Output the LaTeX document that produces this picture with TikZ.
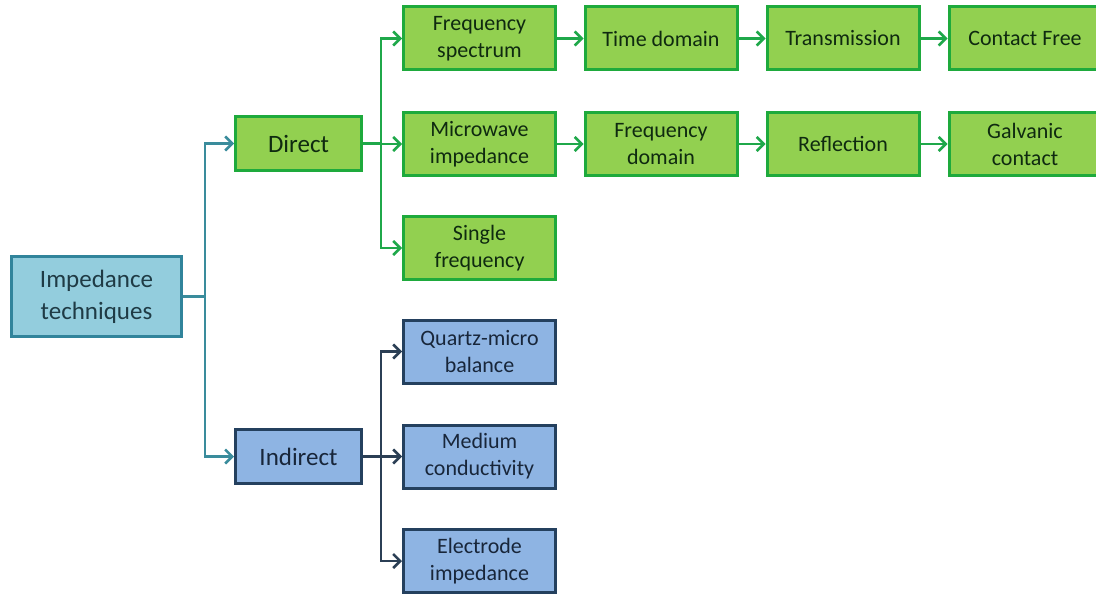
\documentclass[tikz,border=0pt]{standalone}
\usepackage{fontspec}
\setmainfont{Carlito}
\usetikzlibrary{arrows.meta}
\definecolor{impfill}{HTML}{93CDDD}
\definecolor{impdraw}{HTML}{31849B}
\definecolor{imptext}{HTML}{1F3B45}
\definecolor{gfill}{HTML}{92D050}
\definecolor{gdraw}{HTML}{1EAA3C}
\definecolor{gtext}{HTML}{0F2A10}
\definecolor{bfill}{HTML}{8EB4E3}
\definecolor{bdraw}{HTML}{24405E}
\definecolor{btext}{HTML}{18263A}
\definecolor{tealline}{HTML}{3A8C9C}
\definecolor{gline}{HTML}{1FA84A}
\definecolor{bline}{HTML}{2B3F55}
\begin{document}
\begin{tikzpicture}[x=1pt,y=-1pt,
  every node/.style={font=\fontsize{22}{27}\selectfont, align=center, inner sep=0pt, line width=3pt},
  big/.style={font=\fontsize{25}{32}\selectfont},
  impbox/.style={draw=impdraw, fill=impfill, text=imptext, minimum width=170pt, minimum height=80pt, big},
  gbox/.style={draw=gdraw, fill=gfill, text=gtext, minimum width=152pt, minimum height=63pt},
  dbox/.style={draw=gdraw, fill=gfill, text=gtext, minimum width=126pt, minimum height=54pt, big},
  bbox/.style={draw=bdraw, fill=bfill, text=btext, minimum width=152pt, minimum height=63pt},
  ibox/.style={draw=bdraw, fill=bfill, text=btext, minimum width=126pt, minimum height=54pt, big},
  conn/.style={line width=2.5pt},
  arr/.style={conn, -{Straight Barb[length=7pt,width=14pt]}},
]
\fill[white] (0,0) rectangle (1096,594);
\useasboundingbox (0,0) rectangle (1096,594);

\node[impbox] (imp) at (96.5,296.5) {Impedance\\techniques};
\node[dbox] (direct) at (298.5,143.5) {Direct};
\node[ibox] (indirect) at (298.5,456.5) {Indirect};

\node[gbox] (fs) at (479.5,38.5) {Frequency\\spectrum};
\node[gbox] (td) at (661,38.5) {Time domain};
\node[gbox] (tr) at (843,38.5) {Transmission};
\node[gbox] (cf) at (1025,38.5) {Contact Free};

\node[gbox] (mi) at (479.5,144) {Microwave\\impedance};
\node[gbox] (fd) at (661,144) {Frequency\\domain};
\node[gbox] (re) at (843,144) {Reflection};
\node[gbox] (gc) at (1025,144) {Galvanic\\contact};

\node[gbox] (sf) at (479.5,248) {Single\\frequency};

\node[bbox] (qm) at (479.5,351.5) {Quartz-micro\\balance};
\node[bbox] (mc) at (479.5,456.5) {Medium\\conductivity};
\node[bbox] (ei) at (479.5,561) {Electrode\\impedance};

% root connectors
\coordinate (s1) at (205,296.5);
\draw[conn, tealline] (imp.east) -- (s1);
\draw[arr, tealline] (s1) |- (direct.west);
\draw[arr, tealline] (s1) |- (indirect.west);

% direct connectors
\coordinate (s2) at (381,143.5);
\draw[conn, gline] (direct.east) -- (s2);
\draw[arr, gline] (s2) |- (fs.west);
\draw[arr, gline] (s2) |- (mi.west);
\draw[arr, gline] (s2) |- (sf.west);

\draw[arr, gline] (fs) -- (td);
\draw[arr, gline] (td) -- (tr);
\draw[arr, gline] (tr) -- (cf);
\draw[arr, gline] (mi) -- (fd);
\draw[arr, gline] (fd) -- (re);
\draw[arr, gline] (re) -- (gc);

% indirect connectors
\coordinate (s3) at (381,456.5);
\draw[conn, bline] (indirect.east) -- (s3);
\draw[arr, bline] (s3) |- (qm.west);
\draw[arr, bline] (s3) |- (mc.west);
\draw[arr, bline] (s3) |- (ei.west);
\end{tikzpicture}
\end{document}
